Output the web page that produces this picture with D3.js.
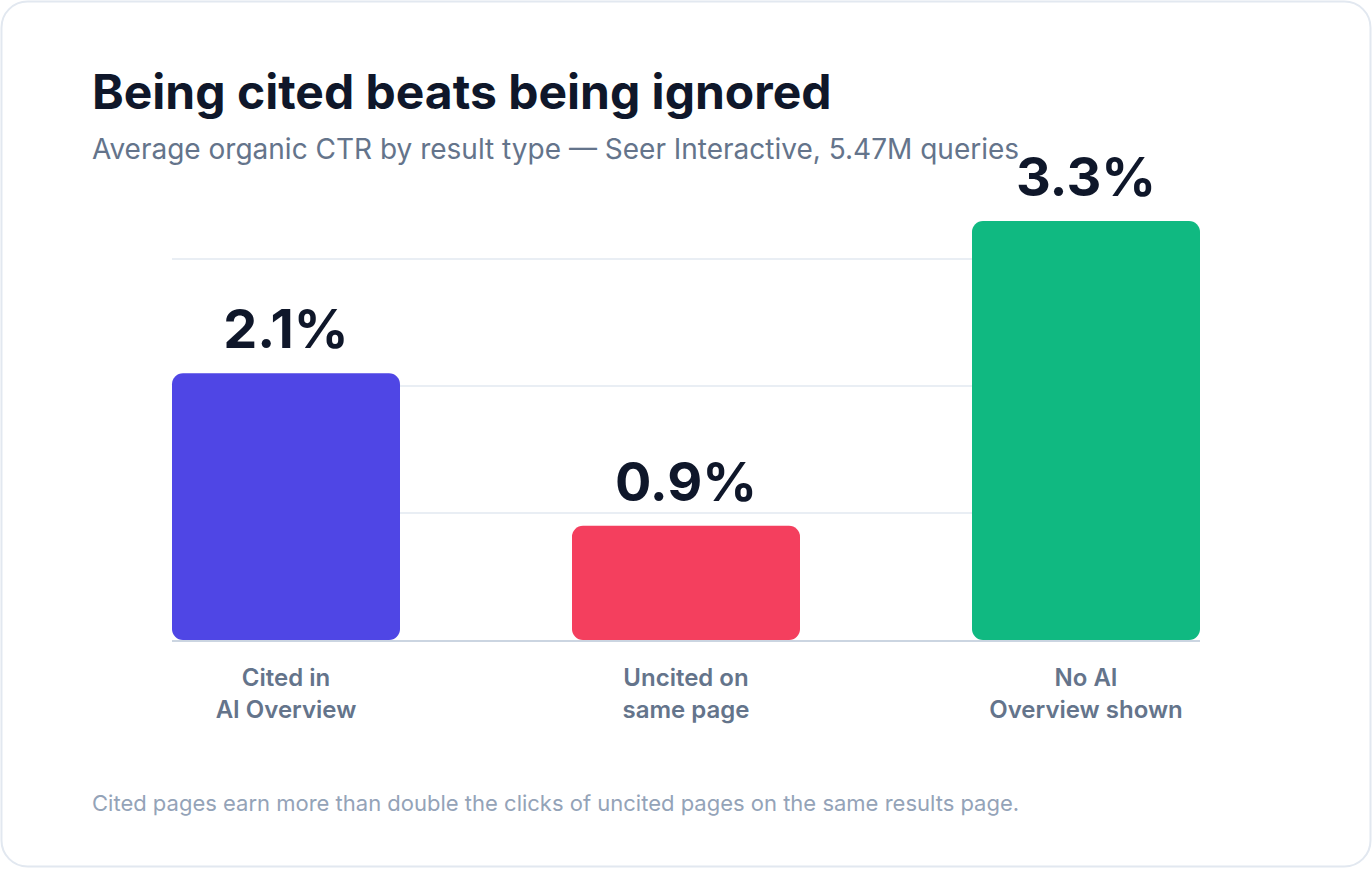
<!DOCTYPE html>
<html><head><meta charset="utf-8">
<script src="https://cdn.jsdelivr.net/npm/d3@7"></script>
<style>
html,body{margin:0;padding:0;background:#fff;}
svg{display:block;font-family:Inter,"Noto Sans",sans-serif;}
</style></head>
<body>
<svg id="chart" width="1372" height="869"></svg>
<script>
const categories = [["Cited in","AI Overview"],["Uncited on","same page"],["No AI","Overview shown"]];
const values = [2.1, 0.9, 3.3];
const colors = ["#4f46e5","#f43f5e","#10b981"];
const gridTicks = [1, 2, 3];
const title = "Being cited beats being ignored";
const subtitle = "Average organic CTR by result type — Seer Interactive, 5.47M queries";
const footnote = "Cited pages earn more than double the clicks of uncited pages on the same results page.";

const svg = d3.select("#chart");
svg.append("rect").attr("x",1.5).attr("y",1.5).attr("width",1369).attr("height",865)
  .attr("rx",26).attr("fill","#fff").attr("stroke","#e2e8f0").attr("stroke-width",2);

svg.append("text").attr("x",92).attr("y",109).attr("fill","#0f172a")
  .attr("font-size",48).attr("font-weight",700).text(title);
svg.append("text").attr("x",92).attr("y",159).attr("fill","#64748b")
  .attr("font-size",28).text(subtitle);
svg.append("text").attr("x",92).attr("y",811).attr("fill","#94a3b8")
  .attr("font-size",22).text(footnote);

const x = d3.scaleBand().domain(d3.range(values.length)).range([172,1200]).paddingInner(0.43).paddingOuter(0);
const y = d3.scaleLinear().domain([0,3.3]).range([640,221]);

svg.append("g").selectAll("line").data(gridTicks).join("line")
  .attr("x1",172).attr("x2",1200).attr("y1",d=>y(d)).attr("y2",d=>y(d))
  .attr("stroke","#e2e8f0").attr("stroke-width",1.5);

svg.append("g").selectAll("rect").data(values).join("rect")
  .attr("x",(d,i)=>x(i)).attr("width",x.bandwidth())
  .attr("y",d=>y(d)).attr("height",d=>y(0)-y(d))
  .attr("rx",11).attr("fill",(d,i)=>colors[i]);

svg.append("line").attr("x1",172).attr("x2",1200).attr("y1",y(0)+1).attr("y2",y(0)+1)
  .attr("stroke","#cbd5e1").attr("stroke-width",2);

svg.append("g").selectAll("text").data(values).join("text")
  .attr("x",(d,i)=>x(i)+x.bandwidth()/2).attr("y",d=>y(d)-25)
  .attr("text-anchor","middle").attr("fill","#0f172a")
  .attr("font-size",54).attr("font-weight",700).text(d=>d.toFixed(1)+"%");

const lab = svg.append("g").selectAll("text").data(categories).join("text")
  .attr("text-anchor","middle").attr("fill","#64748b")
  .attr("font-size",24).attr("font-weight",600);
lab.each(function(d,i){
  const t = d3.select(this);
  d.forEach((line,j)=>{
    t.append("tspan").attr("x",x(i)+x.bandwidth()/2).attr("y",y(0)+46+j*32).text(line);
  });
});
</script>
</body></html>
